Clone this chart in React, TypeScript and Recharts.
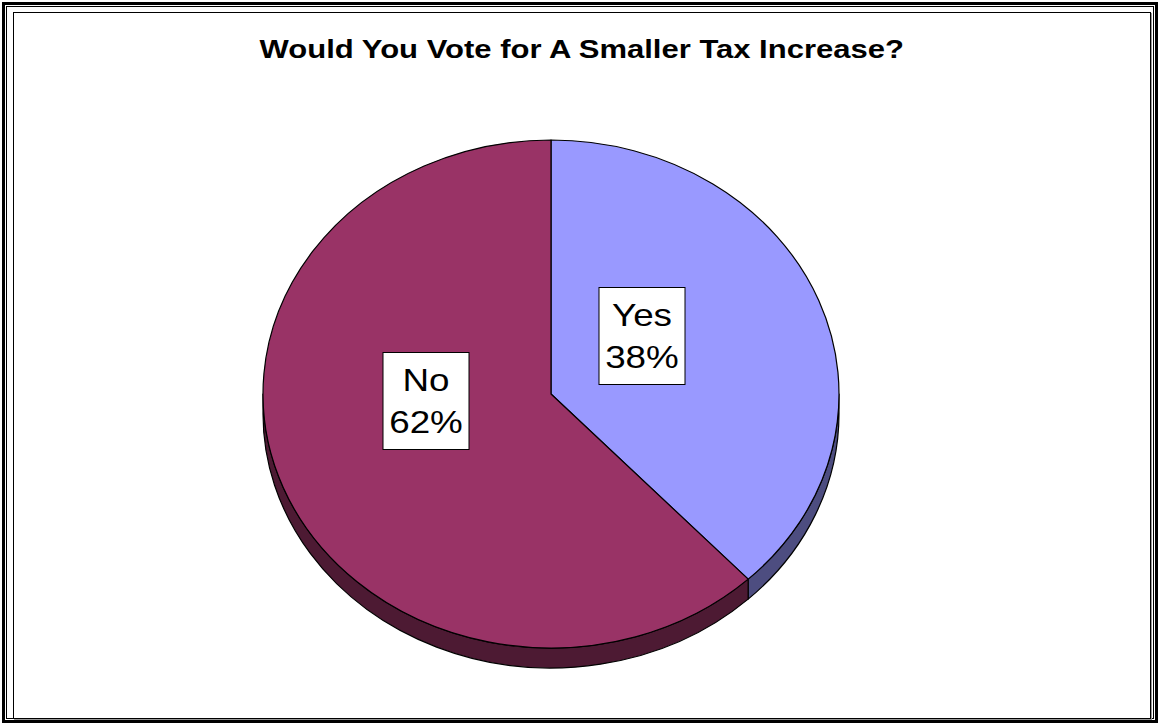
import React from 'react';
import { PieChart, Pie, Cell } from 'recharts';

const categories = ['Yes', 'No'];
const values = [38, 62];
const percentLabels = ['38%', '62%'];
const topColors = ['#9999FF', '#993366'];
const sideColors = ['#4D4D80', '#4D1A33'];
const title = 'Would You Vote for A Smaller Tax Increase?';
// label box centre offsets from pie centre (px)
const labelOffsets = [
  [91, -58],
  [-125, 7],
];

const W = 1160;
const H = 725;
const MARGIN = 5;
const CX = 551 - MARGIN;
const CY = 394 - MARGIN;
const RX = 288;
const RY_RATIO = 254 / 288;
const DEPTH = 20;
const FONT = '"Liberation Sans", Arial, Helvetica, sans-serif';
const TEXT_STRETCH = 1.15;

const data = categories.map((name, i) => ({ name, value: values[i] }));

function pt(cx: number, cy: number, rx: number, ry: number, deg: number) {
  const r = (deg * Math.PI) / 180;
  return [cx + rx * Math.cos(r), cy - ry * Math.sin(r)];
}

function TopShape(props: any) {
  const { cx, cy, outerRadius, startAngle, endAngle, fill } = props;
  const rx = outerRadius;
  const ry = outerRadius * RY_RATIO;
  const hi = Math.max(startAngle, endAngle);
  const lo = Math.min(startAngle, endAngle);
  const p1 = pt(cx, cy, rx, ry, hi);
  const p2 = pt(cx, cy, rx, ry, lo);
  const large = hi - lo > 180 ? 1 : 0;
  const d = `M${cx},${cy} L${p1[0]},${p1[1]} A${rx},${ry} 0 ${large} 1 ${p2[0]},${p2[1]} Z`;
  return <path d={d} fill={fill} stroke="#000" strokeWidth={1.2} strokeLinejoin="round" />;
}

function WallShape(props: any) {
  const { cx, cy, outerRadius, startAngle, endAngle, index } = props;
  const rx = outerRadius;
  const ry = outerRadius * RY_RATIO;
  const s = Math.max(startAngle, endAngle);
  const e = Math.min(startAngle, endAngle);
  const paths: string[] = [];
  for (let k = -2; k <= 1; k++) {
    const lo = Math.max(e, -180 + 360 * k);
    const hi = Math.min(s, 360 * k);
    if (lo < hi) {
      const a = pt(cx, cy, rx, ry, hi);
      const b = pt(cx, cy, rx, ry, lo);
      const large = hi - lo > 180 ? 1 : 0;
      paths.push(
        `M${a[0]},${a[1]} A${rx},${ry} 0 ${large} 1 ${b[0]},${b[1]} L${b[0]},${b[1] + DEPTH} A${rx},${ry} 0 ${large} 0 ${a[0]},${a[1] + DEPTH} Z`
      );
    }
  }
  return (
    <g>
      {paths.map((d, i) => (
        <path key={i} d={d} fill={sideColors[index]} stroke="#000" strokeWidth={1.2} strokeLinejoin="round" />
      ))}
    </g>
  );
}

function renderLabel(props: any) {
  const { cx, cy, index } = props;
  const [dx, dy] = labelOffsets[index];
  const bx = cx + dx;
  const by = cy + dy;
  const w = 86;
  const h = 97;
  const tf = `translate(${bx},0) scale(${TEXT_STRETCH},1) translate(${-bx},0)`;
  return (
    <g key={`lbl-${index}`}>
      <rect x={bx - w / 2} y={by - h / 2} width={w} height={h} fill="#fff" stroke="#000" strokeWidth={1} />
      <text x={bx} y={by - 10} textAnchor="middle" fontFamily={FONT} fontSize={32} fill="#000" transform={tf}>
        {categories[index]}
      </text>
      <text x={bx} y={by + 32} textAnchor="middle" fontFamily={FONT} fontSize={32} fill="#000" transform={tf}>
        {percentLabels[index]}
      </text>
    </g>
  );
}

export default function App() {
  return (
    <div style={{ position: 'absolute', left: 0, top: 0, width: W, height: H, background: '#fff', overflow: 'hidden' }}>
      {/* outer double frame */}
      <div style={{ position: 'absolute', left: 2, top: 2, width: 1156 - 6, height: 721 - 6, border: '3px solid #000' }} />
      <div style={{ position: 'absolute', left: 6, top: 6, width: 1148 - 2, height: 713 - 2, border: '1px solid #000' }} />
      {/* inner frame */}
      <div
        style={{
          position: 'absolute',
          left: 13,
          top: 12,
          width: 1138 - 2,
          height: 707 - 2,
          border: '1px solid #000',
          boxShadow: '1px 1px 0 #999',
        }}
      />
      <div
        style={{
          position: 'absolute',
          left: 13,
          top: 35,
          width: 1138,
          textAlign: 'center',
          fontFamily: FONT,
          fontWeight: 'bold',
          fontSize: 25,
          lineHeight: '28px',
          color: '#000',
          transform: 'scaleX(1.24)',
          transformOrigin: '570px 0',
        }}
      >
        {title}
      </div>
      <div style={{ position: 'absolute', left: 0, top: 0 }}>
        <PieChart width={W} height={H} margin={{ top: MARGIN, right: MARGIN, bottom: MARGIN, left: MARGIN }}>
          <Pie
            data={data}
            dataKey="value"
            nameKey="name"
            cx={CX}
            cy={CY}
            outerRadius={RX}
            startAngle={90}
            endAngle={-270}
            isAnimationActive={false}
            shape={WallShape}
            stroke="none"
          >
            {data.map((d, i) => (
              <Cell key={d.name} fill={sideColors[i]} />
            ))}
          </Pie>
          <Pie
            data={data}
            dataKey="value"
            nameKey="name"
            cx={CX}
            cy={CY}
            outerRadius={RX}
            startAngle={90}
            endAngle={-270}
            isAnimationActive={false}
            shape={TopShape}
            label={renderLabel}
            labelLine={false}
            stroke="none"
          >
            {data.map((d, i) => (
              <Cell key={d.name} fill={topColors[i]} />
            ))}
          </Pie>
        </PieChart>
      </div>
    </div>
  );
}
